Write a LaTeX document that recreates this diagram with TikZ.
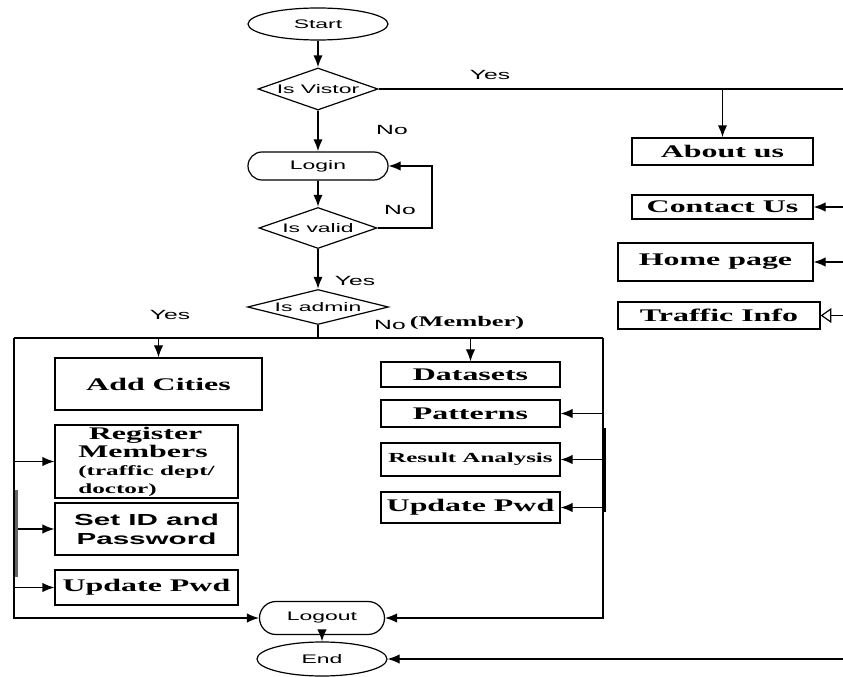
\documentclass[tikz,border=0pt]{standalone}
\usepackage{fontspec}
\setmainfont{Liberation Serif}[FakeStretch=1.8]
\setsansfont{Liberation Sans}[FakeStretch=1.85]
\usetikzlibrary{shapes.geometric,shapes.misc,arrows.meta}
\tikzset{>={Latex[width=7pt,length=9pt]}}

\begin{document}
\begin{tikzpicture}[x=0.75pt,y=-0.75pt,line width=0.9pt,
  term/.style={draw,ellipse,inner sep=0pt,font=\sffamily\fontsize{9.3}{10}\selectfont},
  pill/.style={draw,rounded rectangle,inner sep=0pt,font=\sffamily\fontsize{9.3}{10}\selectfont},
  decide/.style={draw,diamond,inner sep=0pt,font=\sffamily\fontsize{9.3}{10}\selectfont},
  box/.style={draw,rectangle,inner sep=1pt,font=\bfseries\fontsize{13.3}{13.5}\selectfont},
  lbl/.style={font=\sffamily\fontsize{10}{11}\selectfont},
  flow/.style={->,line width=1.4pt}]
\newcommand\U{0.75pt}
\newcommand\sm{\fontsize{10.5}{11.5}\selectfont}
\useasboundingbox (0,0) rectangle (843,677);

% main column
\node[term,minimum width=140*\U,minimum height=32*\U] (start) at (318,24) {Start};
\node[decide,aspect=2.9,minimum width=120*\U,minimum height=42*\U] (vis) at (318,89) {Is Vistor};
\node[pill,minimum width=140*\U,minimum height=28*\U] (login) at (318,166) {Login};
\node[decide,aspect=2.9,minimum width=118*\U,minimum height=41*\U] (valid) at (318,228) {Is valid};
\node[decide,aspect=4,minimum width=141*\U,minimum height=35*\U] (admin) at (318,307) {Is admin};
\node[pill,minimum width=125*\U,minimum height=33*\U] (logout) at (322,618) {Logout};
\node[term,minimum width=130*\U,minimum height=34*\U] (end) at (322,659) {End};

% visitor pages
\node[box,minimum width=181*\U,minimum height=27*\U] (about) at (722.5,151.5) {About us};
\node[box,minimum width=181*\U,minimum height=24*\U] (contact) at (722.5,207) {Contact Us};
\node[box,minimum width=195*\U,minimum height=38*\U] (home) at (715.5,262) {Home page};
\node[box,minimum width=202*\U,minimum height=27*\U] (traffic) at (719,315.5) {Traffic Info};

% admin
\node[box,minimum width=207*\U,minimum height=52*\U] (add) at (158.5,384) {Add Cities};
\node[box,minimum width=183*\U,minimum height=73*\U,align=left] (reg) at (146.5,461.5)
  {\hspace*{0.6em}Register\\Members\\{\sm(traffic dept/}\\{\sm doctor)}};
\node[box,minimum width=183*\U,minimum height=52*\U,align=center,
  font=\sffamily\bfseries\fontsize{12}{14}\selectfont] (setid) at (146.5,529) {Set ID and\\Password};
\node[box,minimum width=183*\U,minimum height=35*\U] (updA) at (146.5,587.5) {Update Pwd};

% member
\node[box,minimum width=179*\U,minimum height=25*\U] (data) at (470.5,374.5) {Datasets};
\node[box,minimum width=179*\U,minimum height=27*\U] (pat) at (470.5,413.5) {Patterns};
\node[box,minimum width=179*\U,minimum height=33*\U,font=\bfseries\fontsize{10.4}{12}\selectfont] (res) at (470.5,459.5) {Result Analysis};
\node[box,minimum width=179*\U,minimum height=31*\U] (updM) at (470.5,507.5) {Update Pwd};

% labels
\node[lbl] (yes1) at (490,75) {Yes};
\node[lbl] (no1) at (392,130) {No};
\node[lbl] (no2) at (400,210) {No};
\node[lbl] (yes2) at (355,281) {Yes};
\node[lbl] (yes3) at (170,315) {Yes};
\node[lbl] (no3) at (390,325) {No};
\node[font=\bfseries\fontsize{11}{12}\selectfont] (mem) at (467,323) {(Member)};

\coordinate (yesR) at (843,89);
\coordinate (conR) at (843,207);
\coordinate (homR) at (843,262);
\coordinate (trfR) at (843,315.5);
\coordinate (endR) at (843,659);
\coordinate (adJ) at (318,338);
\coordinate (busL) at (14,338);
\coordinate (busR) at (603,338);
\coordinate (loopR) at (432,228);

\draw[flow] (start) -- (vis);
\draw[flow] (vis) -- (login);
\draw (vis.east) -- (yesR);
\draw[flow] (vis.east -| about) -- (about);
\draw[->] (conR) -- (contact.east);
\draw[->] (homR) -- (home.east);
\draw[-{Triangle[open,width=11pt,length=8pt]}] (trfR) -- (traffic.east);
\draw[->] (endR) -- (end.east);

\draw[flow] (login) -- (valid);
\draw[->] (valid.east) -- (loopR) |- (login.east);
\draw[flow] (valid) -- (admin);
\draw[line width=1.4pt] (admin.south) -- (adJ);
\draw (busL) -- (busR);
\draw[->] (busL) |- (logout.west);
\draw[->] (busR) |- (logout.east);
\draw[->] (busL -| add) -- (add);
\draw[->] (busL -| data) -- (data);
\draw[->] (busL |- reg) -- (reg.west);
\draw[->] (busL |- setid) -- (setid.west);
\draw[->] (busL |- updA) -- (updA.west);
\draw[->] (busR |- pat) -- (pat.east);
\draw[->] (busR |- res) -- (res.east);
\draw[->] (busR |- updM) -- (updM.east);
\draw[->] (logout) -- (end);

\draw[line width=2.2pt,black!60] (16.5,490) -- (16.5,577);
\draw[line width=1.8pt] (605,428) -- (605,512);

\end{tikzpicture}
\end{document}
